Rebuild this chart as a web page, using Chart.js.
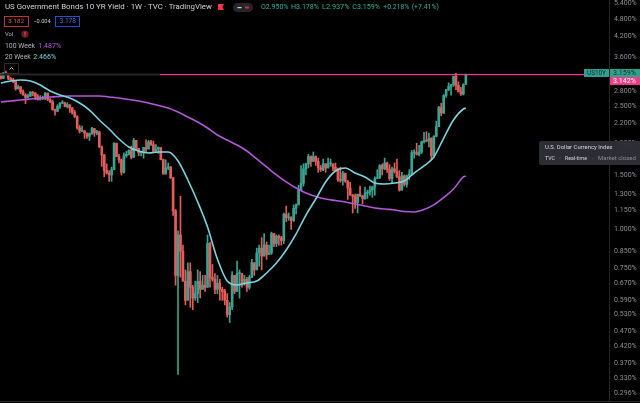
<!DOCTYPE html>
<html><head><meta charset="utf-8">
<script src="https://cdn.jsdelivr.net/npm/chart.js@4/dist/chart.umd.min.js"></script>
<style>html,body{margin:0;padding:0;background:#000;}#wrap{width:640px;height:403px;position:relative;background:#000}</style>
</head><body><div id="wrap"><canvas id="c" width="640" height="403"></canvas></div>
<script>
// Weekly candles, week of 2018-10-22 (index 0) to week of 2022-06-06 (index 189)
const firstWeek = '2018-10-22';
const openVals = [3.19,3.08,3.21,3.18,3.08,3.05,3.01,2.85,2.89,2.79,
2.72,2.67,2.70,2.78,2.76,2.69,2.63,2.66,2.65,2.76,
2.63,2.59,2.44,2.41,2.50,2.56,2.56,2.50,2.53,2.47,
2.39,2.32,2.13,2.08,2.08,2.05,2.00,2.04,2.12,2.05,
2.07,1.85,1.74,1.55,1.52,1.50,1.56,1.90,1.72,1.68,
1.53,1.73,1.75,1.80,1.71,1.94,1.83,1.77,1.78,1.84,
1.82,1.92,1.88,1.79,1.82,1.84,1.68,1.51,1.58,1.59,
1.47,1.15,0.71,0.96,0.85,0.68,0.59,0.73,0.65,0.60,
0.62,0.68,0.64,0.66,0.65,0.90,0.70,0.69,0.64,0.67,
0.64,0.63,0.59,0.53,0.56,0.71,0.63,0.72,0.72,0.67,
0.69,0.65,0.70,0.78,0.74,0.84,0.87,0.82,0.89,0.83,
0.84,0.97,0.90,0.95,0.94,0.92,1.12,1.09,1.09,1.07,
1.17,1.20,1.34,1.41,1.57,1.63,1.72,1.66,1.72,1.66,
1.58,1.56,1.63,1.58,1.63,1.63,1.59,1.55,1.45,1.44,
1.52,1.43,1.36,1.29,1.28,1.22,1.30,1.28,1.26,1.31,
1.32,1.34,1.37,1.46,1.47,1.61,1.57,1.64,1.56,1.46,
1.57,1.54,1.48,1.34,1.49,1.40,1.49,1.51,1.77,1.77,
1.75,1.78,1.92,1.94,1.93,1.97,1.73,2.00,2.15,2.48,
2.38,2.71,2.83,2.90,2.94,3.13,2.92,2.79,2.74,2.950];
const highVals = [3.20,3.22,3.25,3.19,3.10,3.08,3.01,2.93,2.90,2.83,
2.75,2.74,2.79,2.79,2.77,2.73,2.71,2.70,2.77,2.76,
2.65,2.62,2.45,2.53,2.57,2.61,2.58,2.57,2.53,2.48,
2.43,2.33,2.17,2.16,2.09,2.05,2.05,2.14,2.12,2.09,
2.08,1.86,1.75,1.63,1.55,1.59,1.91,1.90,1.75,1.69,
1.77,1.79,1.81,1.86,1.97,1.94,1.83,1.79,1.84,1.95,
1.94,1.94,1.93,1.88,1.85,1.84,1.69,1.68,1.64,1.60,
1.47,1.16,0.99,1.28,0.89,0.74,0.78,0.78,0.66,0.68,
0.74,0.73,0.71,0.71,0.96,0.91,0.77,0.72,0.71,0.69,
0.65,0.64,0.62,0.58,0.73,0.71,0.79,0.74,0.72,0.71,
0.70,0.71,0.80,0.78,0.87,0.89,0.94,0.97,0.91,0.89,
0.98,0.97,0.96,0.96,0.95,1.13,1.19,1.13,1.10,1.20,
1.21,1.39,1.61,1.63,1.64,1.75,1.73,1.78,1.73,1.70,
1.61,1.69,1.63,1.70,1.69,1.63,1.64,1.58,1.59,1.54,
1.52,1.44,1.42,1.30,1.30,1.30,1.38,1.29,1.37,1.34,
1.38,1.38,1.48,1.56,1.62,1.63,1.70,1.65,1.62,1.59,
1.64,1.69,1.55,1.53,1.50,1.50,1.56,1.80,1.81,1.90,
1.87,1.93,2.06,2.07,2.05,1.98,2.01,2.24,2.50,2.56,
2.73,2.84,2.98,2.94,3.13,3.20,3.00,2.88,2.96,3.178];
const lowVals = [3.06,3.07,3.16,3.05,3.03,2.98,2.82,2.84,2.75,2.72,
2.55,2.66,2.69,2.70,2.63,2.62,2.62,2.63,2.63,2.61,
2.57,2.43,2.34,2.40,2.46,2.55,2.49,2.47,2.39,2.36,
2.30,2.11,2.05,2.07,1.97,1.97,1.94,2.03,2.00,2.02,
1.84,1.60,1.48,1.51,1.43,1.43,1.56,1.72,1.64,1.50,
1.52,1.71,1.74,1.69,1.71,1.81,1.73,1.73,1.70,1.77,
1.82,1.87,1.77,1.77,1.76,1.68,1.51,1.51,1.56,1.46,
1.11,0.66,0.34,0.70,0.68,0.57,0.59,0.56,0.55,0.59,
0.58,0.60,0.64,0.63,0.65,0.65,0.68,0.62,0.62,0.59,
0.59,0.57,0.52,0.50,0.55,0.62,0.63,0.60,0.65,0.66,
0.63,0.64,0.70,0.71,0.74,0.76,0.74,0.82,0.80,0.83,
0.83,0.88,0.88,0.89,0.89,0.90,1.06,1.07,1.00,1.06,
1.12,1.20,1.34,1.38,1.50,1.58,1.60,1.66,1.61,1.53,
1.54,1.55,1.53,1.58,1.60,1.55,1.55,1.43,1.42,1.39,
1.42,1.25,1.29,1.13,1.17,1.13,1.28,1.21,1.25,1.26,
1.29,1.27,1.29,1.46,1.46,1.50,1.56,1.53,1.44,1.41,
1.52,1.47,1.33,1.34,1.38,1.37,1.45,1.50,1.70,1.74,
1.73,1.76,1.90,1.92,1.85,1.68,1.71,1.99,2.15,2.33,
2.37,2.67,2.81,2.72,2.90,2.83,2.78,2.71,2.72,2.937];
const closeVals = [3.08,3.21,3.18,3.08,3.05,3.01,2.85,2.89,2.79,2.72,
2.67,2.70,2.78,2.76,2.69,2.63,2.66,2.65,2.76,2.63,
2.59,2.44,2.41,2.50,2.56,2.56,2.50,2.53,2.47,2.39,
2.32,2.13,2.08,2.08,2.05,2.00,2.04,2.12,2.05,2.07,
1.85,1.74,1.55,1.52,1.50,1.56,1.90,1.72,1.68,1.53,
1.73,1.75,1.80,1.71,1.94,1.83,1.77,1.78,1.84,1.82,
1.92,1.88,1.79,1.82,1.84,1.68,1.51,1.58,1.59,1.47,
1.15,0.71,0.96,0.85,0.68,0.59,0.73,0.65,0.60,0.62,
0.68,0.64,0.66,0.65,0.90,0.70,0.69,0.64,0.67,0.64,
0.63,0.59,0.53,0.56,0.71,0.63,0.72,0.72,0.67,0.69,
0.65,0.70,0.78,0.74,0.84,0.87,0.82,0.89,0.83,0.84,
0.97,0.90,0.95,0.94,0.92,1.12,1.09,1.09,1.07,1.17,
1.20,1.34,1.41,1.57,1.63,1.72,1.66,1.72,1.66,1.58,
1.56,1.63,1.58,1.63,1.63,1.59,1.55,1.45,1.44,1.52,
1.43,1.36,1.29,1.28,1.22,1.30,1.28,1.26,1.31,1.32,
1.34,1.37,1.46,1.47,1.61,1.57,1.64,1.56,1.46,1.57,
1.54,1.48,1.34,1.49,1.40,1.49,1.51,1.77,1.77,1.75,
1.78,1.92,1.94,1.93,1.97,1.73,2.00,2.15,2.48,2.38,
2.71,2.83,2.90,2.94,3.13,2.92,2.79,2.74,2.941,3.159];

// Moving averages at every 4th week
const maWeeks = [0,4,8,12,16,20,24,28,32,36,40,44,48,52,56,60,64,68,72,76,80,84,88,92,96,100,104,108,112,116,120,124,128,132,136,140,144,148,152,156,160,164,168,172,176,180,184,188,189];
const ma20Vals = [2.975,3.020,3.043,3.020,2.931,2.803,2.721,2.661,2.564,2.433,2.259,2.112,1.961,1.848,1.793,1.767,1.780,1.780,1.665,1.445,1.227,1.018,0.802,0.681,0.661,0.671,0.681,0.723,0.779,0.858,0.967,1.113,1.254,1.424,1.545,1.580,1.522,1.478,1.413,1.403,1.413,1.434,1.522,1.604,1.715,1.975,2.259,2.452,2.466];
const ma100Vals = [2.583,2.602,2.621,2.641,2.661,2.681,2.691,2.701,2.701,2.701,2.701,2.681,2.661,2.631,2.602,2.564,2.516,2.470,2.397,2.310,2.225,2.128,2.020,1.946,1.875,1.793,1.690,1.592,1.500,1.424,1.361,1.312,1.278,1.254,1.240,1.227,1.208,1.191,1.173,1.164,1.156,1.143,1.139,1.160,1.200,1.268,1.351,1.478,1.487];

const priceTicks = [5.4,4.8,4.2,3.6,2.8,2.5,2.2,1.9,1.5,1.3,1.15,1.0,0.85,0.75,0.67,0.59,0.53,0.47,0.42,0.37,0.33,0.296];

const UP = '#3aa391', DOWN = '#e35d5a';
const lastPrice = 3.159, linePrice = 3.142;

const bodies = openVals.map((o,i)=>({x:i, y:[o, closeVals[i]]}));
const wicks = lowVals.map((l,i)=>({x:i, y:[l, highVals[i]]}));
const colors = openVals.map((o,i)=> closeVals[i] >= o ? UP : DOWN);
const ma20 = maWeeks.map((w,k)=>({x:w, y:ma20Vals[k]}));
const ma100 = maWeeks.map((w,k)=>({x:w, y:ma100Vals[k]}));

const FONT = 'Roboto, "Noto Sans", sans-serif';

function fitText(ctx, text, x, y, w, color){
  ctx.font = '10px ' + FONT;
  const m = ctx.measureText(text).width;
  const size = Math.max(5, Math.min(11, 10 * w / m));
  ctx.font = size.toFixed(2) + 'px ' + FONT;
  ctx.fillStyle = color;
  ctx.fillText(text, x, y);
}

const overlay = {
  id:'overlay',
  afterDraw(chart){
    const ctx = chart.ctx, ys = chart.scales.y;
    ctx.save();
    ctx.textBaseline = 'middle';
    ctx.textAlign = 'left';
    // bottom border
    ctx.fillStyle = '#2a2a2a';
    ctx.fillRect(0, 401, 640, 1);
    // price lines
    const yl = Math.round(ys.getPixelForValue(lastPrice)) - 0.5;
    ctx.fillStyle = '#262626';
    ctx.fillRect(0, yl-1, 160, 2);
    ctx.fillStyle = '#ea3f86';
    ctx.fillRect(160, yl-0.6, 424, 1.3);
    // right labels
    ctx.fillStyle = '#33a08f';
    ctx.fillRect(584, yl-5.5, 25, 8);
    ctx.fillRect(610, yl-5.5, 30, 8);
    ctx.fillStyle = '#ea3f86';
    ctx.fillRect(610, yl+2.5, 30, 8);
    fitText(ctx, 'US10Y', 587, yl-1.3, 19, '#0f2f2b');
    fitText(ctx, lastPrice.toFixed(3)+'%', 613, yl-1.3, 23, '#0f2f2b');
    fitText(ctx, linePrice.toFixed(3)+'%', 613, yl+6.7, 23, '#ffffff');

    // tooltip box
    ctx.fillStyle = 'rgba(46,48,54,0.97)';
    ctx.beginPath();
    if (ctx.roundRect) ctx.roundRect(539, 141, 110, 24, 2); else ctx.rect(539,141,110,24);
    ctx.fill();
    fitText(ctx, 'U.S. Dollar Currency Index', 545, 147.5, 67.5, '#d1d4dc');
    fitText(ctx, 'TVC', 545, 158.5, 10, '#d1d4dc');
    fitText(ctx, '·', 559, 158.5, 1.6, '#8a8d94');
    fitText(ctx, 'Real-time', 565, 158.5, 22, '#d1d4dc');
    fitText(ctx, '·', 592, 158.5, 1.6, '#8a8d94');
    fitText(ctx, 'Market closed', 598, 158.5, 38, '#8a8d94');

    // header line 1
    fitText(ctx, 'US Government Bonds 10 YR Yield · 1W · TVC · TradingView', 5, 7.5, 207, '#d1d4dc');
    // flag icon
    ctx.fillStyle = '#f23645';
    ctx.beginPath(); ctx.moveTo(218,4); ctx.lineTo(224,4); ctx.lineTo(222.5,7); ctx.lineTo(224,10); ctx.lineTo(218,10); ctx.closePath(); ctx.fill();
    // pill
    ctx.fillStyle = '#26262a';
    ctx.beginPath();
    if (ctx.roundRect) ctx.roundRect(233, 3, 20, 9, 4.5); else ctx.rect(233,3,20,9);
    ctx.fill();
    ctx.fillStyle = '#d1d4dc'; ctx.fillRect(237.5, 7, 4, 1.2);
    ctx.fillStyle = '#c2334a'; ctx.fillRect(245, 6.5, 4, 2);
    // OHLC
    const G = '#2db39e';
    fitText(ctx, 'O2.950%', 261, 7.5, 27.5, G);
    fitText(ctx, 'H3.178%', 291, 7.5, 28, G);
    fitText(ctx, 'L2.937%', 322, 7.5, 27.5, G);
    fitText(ctx, 'C3.159%', 352.3, 7.5, 27.7, G);
    fitText(ctx, '+0.218%', 383.3, 7.5, 26, G);
    fitText(ctx, '(+7.41%)', 411.7, 7.5, 27.3, G);

    // line 2
    ctx.lineWidth = 1;
    ctx.strokeStyle = '#b8373b'; ctx.strokeRect(4.5, 16.5, 24, 10);
    ctx.strokeStyle = '#2a4fcf'; ctx.strokeRect(55.5, 16.5, 24, 10);
    fitText(ctx, '3.182', 8.3, 21.8, 15.7, '#e0545a');
    fitText(ctx, '3.178', 59.5, 21.8, 16.5, '#4e74ea');
    fitText(ctx, '−0.004', 33.3, 21.8, 17.4, '#c8cad0');
    // Vol
    fitText(ctx, 'Vol', 5, 34.5, 8.3, '#b2b5be');
    ctx.fillStyle = '#6a1c22'; ctx.beginPath(); ctx.arc(25, 34.2, 3.6, 0, Math.PI*2); ctx.fill();
    ctx.fillStyle = '#ff4d5a'; ctx.fillRect(24.5, 31.8, 1, 3); ctx.fillRect(24.5, 35.6, 1, 1);
    // MA legends
    fitText(ctx, '100 Week', 5, 46, 30, '#b2b5be');
    fitText(ctx, ma100Vals[ma100Vals.length-1].toFixed(3)+'%', 38.3, 46, 22.7, '#b45ede');
    fitText(ctx, '20 Week', 5, 57.5, 25.7, '#b2b5be');
    fitText(ctx, ma20Vals[ma20Vals.length-1].toFixed(3)+'%', 33.3, 57.5, 22.7, '#7fd3df');
    // collapse box
    ctx.strokeStyle = '#2c2c30'; ctx.strokeRect(4.5, 63.5, 14, 10);
    ctx.strokeStyle = '#c8cad0'; ctx.lineWidth = 1;
    ctx.beginPath(); ctx.moveTo(9.5, 69.5); ctx.lineTo(11.5, 67.5); ctx.lineTo(13.5, 69.5); ctx.stroke();
    ctx.restore();
  }
};

new Chart(document.getElementById('c'), {
  type: 'bar',
  data: {
    datasets: [
      {type:'line', label:'20 Week', data: ma20, borderColor:'#7fd3df', borderWidth:1.6, pointRadius:0, cubicInterpolationMode:'monotone', order:0},
      {type:'line', label:'100 Week', data: ma100, borderColor:'#b25ad6', borderWidth:1.6, pointRadius:0, cubicInterpolationMode:'monotone', order:0},
      {label:'body', data: bodies, backgroundColor: colors, barThickness:2, minBarLength:1, grouped:false, borderWidth:0, order:1},
      {label:'wick', data: wicks, backgroundColor: colors, barThickness:1, grouped:false, borderWidth:0, order:2}
    ]
  },
  options: {
    responsive:false, animation:false, devicePixelRatio:1,
    layout:{padding:{left:0,right:0,top:0,bottom:2}},
    plugins:{legend:{display:false}, tooltip:{enabled:false}},
    scales:{
      x:{type:'linear', min:-0.37, max:247.2, bounds:'data', offset:false, display:false,
        afterBuildTicks: s => { s.ticks = []; }},
      y:{type:'logarithmic', position:'right', min:0.2787, max:5.52, bounds:'data',
        afterBuildTicks: s => { s.ticks = priceTicks.map(v=>({value:v})); },
        afterFit: s => { s.width = 31; s.paddingTop = 0; s.paddingBottom = 0; },
        grid:{display:false, drawTicks:false},
        border:{display:true, color:'#262626', width:1},
        ticks:{autoSkip:false, color:'#8e9198', padding:5, font:{family:FONT, size:7}, callback: v => Number(v).toFixed(3)+'%'}
      }
    }
  },
  plugins:[overlay]
});
</script>
</body></html>
